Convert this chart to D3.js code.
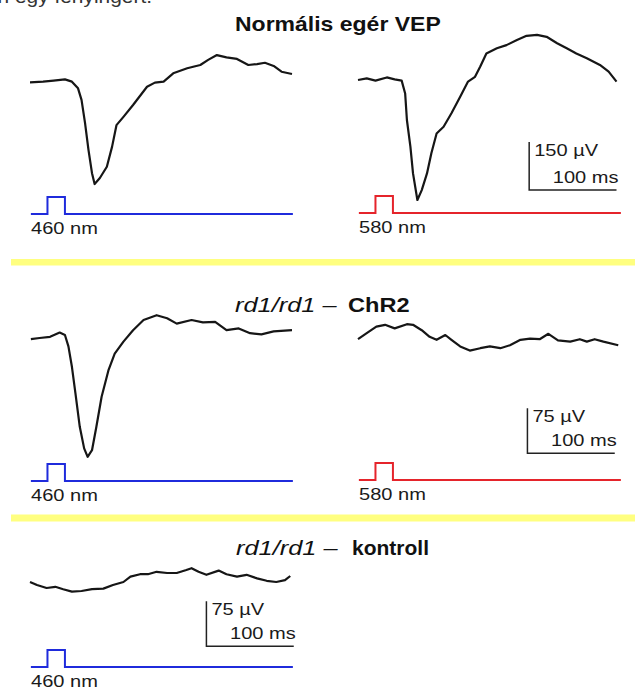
<!DOCTYPE html>
<html>
<head>
<meta charset="utf-8">
<script src="https://cdn.jsdelivr.net/npm/d3@7.9.0/dist/d3.min.js"></script>
<style>
  body { margin: 0; background: #fff; }
  svg { display: block; }
</style>
</head>
<body>
<svg id="chart" width="635" height="690"></svg>
<script>
// --- data (time in ms from light onset, amplitude in µV) ---
const normal460T = [-20, -5, 7, 20, 28, 35, 39, 43, 47, 51, 54, 60, 68, 74, 79, 87, 98, 114, 123, 133, 144, 160, 175, 184, 194, 205, 217, 230, 240, 249, 259, 268, 280];
const normal460V = [-4, -2, 1, 5, -2, -23, -59, -131, -216, -288, -322, -303, -268, -205, -138, -112, -75, -18, -5, -2, 24, 40, 50, 66, 81, 74, 69, 50, 53, 57, 47, 29, 22];

const normal580T = [-20, -10, 0, 13, 22, 30, 34, 36, 40, 43, 48, 53, 59, 64, 70, 78, 87, 97, 106, 114, 120, 127, 139, 150, 162, 173, 185, 196, 208, 219, 230, 242, 257, 267, 276];
const normal580V = [0, 5, -2, 8, 2, -2, -42, -125, -208, -292, -375, -344, -292, -229, -167, -146, -104, -52, -5, 10, 42, 83, 99, 109, 125, 138, 141, 135, 115, 99, 83, 68, 47, 26, -5];

const chr460T = [-19, -9, 3, 14, 20, 24, 28, 32, 37, 42, 46, 51, 56, 62, 70, 77, 87, 98, 110, 125, 137, 148, 165, 178, 192, 205, 219, 232, 245, 259, 280];
const chr460V = [-2, 0, 2, 9, 5, -14, -48, -92, -148, -184, -198, -187, -148, -98, -53, -26, -6, 13, 30, 38, 33, 24, 30, 26, 27, 13, 16, 8, 6, 11, 13];

const chr580T = [-20, -10, 1, 11, 22, 36, 43, 53, 62, 70, 80, 87, 97, 108, 120, 131, 143, 154, 166, 177, 188, 198, 209, 223, 234, 242, 251, 261, 278];
const chr580V = [-2, 8, 19, 22, 16, 23, 22, 13, 2, -3, 5, -3, -14, -21, -17, -14, -17, -12, -3, -1, -2, 7, -4, -6, -2, -6, -2, -6, -12];

const ctl460T = [-20, -12, -1, 9, 18, 28, 39, 51, 64, 75, 87, 95, 106, 115, 125, 137, 148, 159, 165, 173, 182, 196, 205, 217, 228, 240, 251, 262, 272, 278];
const ctl460V = [0, -5, -10, -8, -12, -16, -15, -12, -11, -5, 0, 9, 13, 13, 17, 15, 15, 20, 23, 17, 12, 19, 13, 9, 12, 6, 2, 0, 3, 10];

// light stimulus: 20 ms pulse
const stimT = [-19, 0, 0, 20, 20, 281];
const stimOn = [0, 0, 1, 1, 0, 0];

const wavelengths = ['460 nm', '580 nm'];
const scaleBarUV = [150, 75, 75];
const scaleBarMs = 100;

// --- layout ---
const svg = d3.select('#chart');
const FONT = "'Liberation Sans', Arial, Helvetica, sans-serif";
const BLUE = '#1f2bdc';
const RED = '#e5242b';

const panels = [
  { T: normal460T, V: normal460V, x0: 30, base: 81, pxPerUV: 48 / 150, stimY: 214, color: BLUE, wl: wavelengths[0] },
  { T: normal580T, V: normal580V, x0: 358, base: 80, pxPerUV: 48 / 150, stimY: 213, color: RED, wl: wavelengths[1],
    bar: { t: 176, v: -344, uv: scaleBarUV[0] } },
  { T: chr460T, V: chr460V, x0: 30, base: 338, pxPerUV: 45 / 75, stimY: 481, color: BLUE, wl: wavelengths[0] },
  { T: chr580T, V: chr580V, x0: 358, base: 338, pxPerUV: 45 / 75, stimY: 480, color: RED, wl: wavelengths[1],
    bar: { t: 174, v: -192, uv: scaleBarUV[1] } },
  { T: ctl460T, V: ctl460V, x0: 30, base: 582, pxPerUV: 45 / 75, stimY: 667, color: BLUE, wl: wavelengths[0],
    bar: { t: 182, v: -107, uv: scaleBarUV[2] } }
];

// text helper, slightly widened like the original scan
function label(x, y, str, size, opts = {}) {
  return svg.append('text')
    .attr('transform', `translate(${x},${y}) scale(${opts.sx || 1.18},1)`)
    .attr('font-family', FONT)
    .attr('font-size', size)
    .attr('font-weight', opts.weight || 'normal')
    .attr('font-style', opts.style || 'normal')
    .attr('text-anchor', opts.anchor || 'start')
    .attr('fill', opts.fill || '#1a1a1a')
    .text(str);
}

// cut-off caption line at the very top
label(152, 3, 'nn egy fényingert.', 19, { anchor: 'end', sx: 1.1, fill: '#333' });

// yellow separators
svg.append('rect').attr('x', 11).attr('y', 259).attr('width', 624).attr('height', 6.5).attr('fill', '#ffff80');
svg.append('rect').attr('x', 11).attr('y', 514.5).attr('width', 624).attr('height', 7).attr('fill', '#ffff80');

// section titles
label(235, 31, 'Normális egér VEP', 20, { weight: 'bold', sx: 1.15, fill: '#111' });

label(235, 312, 'rd1/rd1 –', 20, { style: 'italic', sx: 1.27, fill: '#111' });
label(348, 312, 'ChR2', 20, { weight: 'bold', sx: 1.18, fill: '#111' });
label(236, 555, 'rd1/rd1 –', 20, { style: 'italic', sx: 1.27, fill: '#111' });
label(352, 555, 'kontroll', 20, { weight: 'bold', sx: 1.05, fill: '#111' });

panels.forEach(p => {
  const x = d3.scaleLinear().domain([-20, 280]).range([p.x0, p.x0 + 262]);
  const y = d3.scaleLinear().domain([0, 100]).range([p.base, p.base - 100 * p.pxPerUV]);
  const s = d3.scaleLinear().domain([0, 1]).range([p.stimY, p.stimY - 17]);

  // VEP trace
  const line = d3.line().x(i => x(p.T[i])).y(i => y(p.V[i]));
  svg.append('path')
    .attr('d', line(d3.range(p.T.length)))
    .attr('fill', 'none')
    .attr('stroke', '#161616')
    .attr('stroke-width', 2.2)
    .attr('stroke-linejoin', 'round');

  // stimulus trace
  const stimLine = d3.line().x(i => x(stimT[i])).y(i => s(stimOn[i]));
  svg.append('path')
    .attr('d', stimLine(d3.range(stimT.length)))
    .attr('fill', 'none')
    .attr('stroke', p.color)
    .attr('stroke-width', 2);

  label(p.x0 + 1, p.stimY + 19.5, p.wl, 17);

  // scale bar
  if (p.bar) {
    const bx = x(p.bar.t), by = y(p.bar.v);
    const top = y(p.bar.v + p.bar.uv), right = x(p.bar.t + scaleBarMs);
    svg.append('path')
      .attr('d', `M${bx},${top}V${by}H${right}`)
      .attr('fill', 'none')
      .attr('stroke', '#222')
      .attr('stroke-width', 1.5);
    label(bx + 5, top + 14, `${p.bar.uv} µV`, 17);
    label(right + 2, by - 7, `${scaleBarMs} ms`, 17, { anchor: 'end' });
  }
});
</script>
</body>
</html>
